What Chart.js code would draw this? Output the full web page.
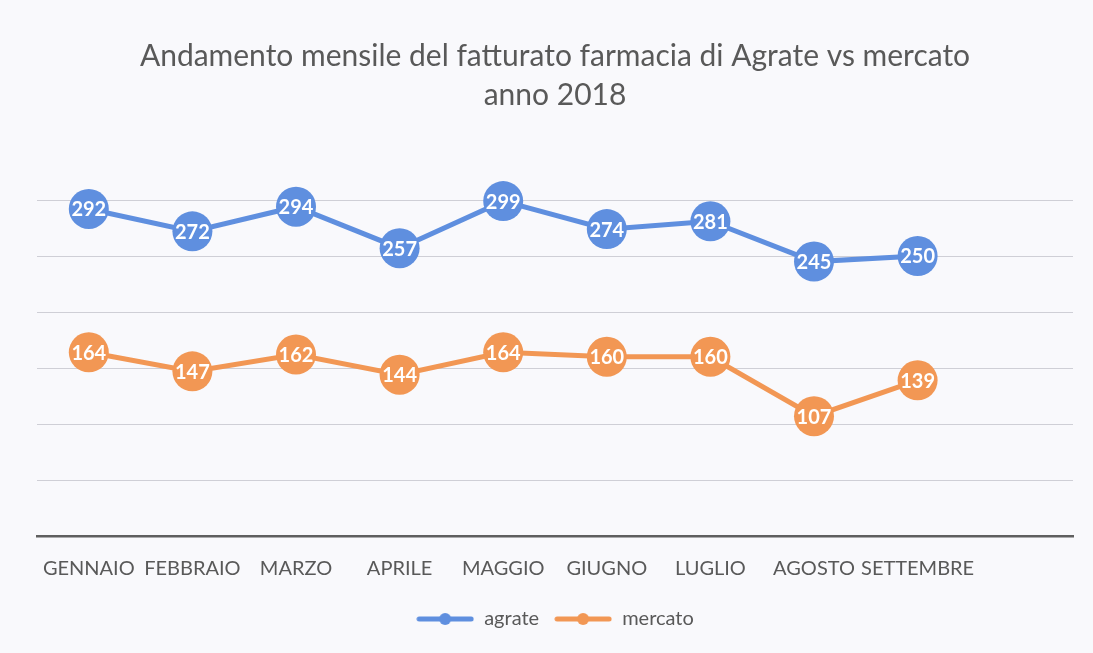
<!DOCTYPE html>
<html>
<head>
<meta charset="utf-8">
<script src="https://cdn.jsdelivr.net/npm/chart.js@4.4.1/dist/chart.umd.min.js"></script>
<style>
  html, body { margin: 0; padding: 0; background: #f9f9fc; }
  #wrap { width: 1093px; height: 653px; }
</style>
</head>
<body>
<div id="wrap"><canvas id="trend" width="1093" height="653"></canvas></div>
<script>
const months = ['GENNAIO', 'FEBBRAIO', 'MARZO', 'APRILE', 'MAGGIO', 'GIUGNO', 'LUGLIO', 'AGOSTO', 'SETTEMBRE', ''];
const agrateValues = [292, 272, 294, 257, 299, 274, 281, 245, 250];
const mercatoValues = [164, 147, 162, 144, 164, 160, 160, 107, 139];

const blue = '#5f8fdf';
const orange = '#f29754';
const grey = '#595959';

// piccolo campione linea + cerchio per la legenda
function legendMark(color) {
    const c = document.createElement('canvas');
    c.width = 58; c.height = 14;
    const ctx = c.getContext('2d');
    ctx.strokeStyle = color;
    ctx.lineWidth = 5;
    ctx.lineCap = 'round';
    ctx.beginPath(); ctx.moveTo(3, 7); ctx.lineTo(55, 7); ctx.stroke();
    ctx.fillStyle = color;
    ctx.beginPath(); ctx.arc(29, 7, 6, 0, Math.PI * 2); ctx.fill();
    return c;
}

// etichette bianche dentro i cerchi
const valueLabels = {
    id: 'valueLabels',
    afterDatasetsDraw(chart) {
        const ctx = chart.ctx;
        ctx.save();
        ctx.font = 'bold 20px Lato';
        ctx.fillStyle = '#ffffff';
        ctx.textAlign = 'center';
        ctx.textBaseline = 'middle';
        chart.data.datasets.forEach((ds, i) => {
            chart.getDatasetMeta(i).data.forEach((pt, j) => {
                if (ds.data[j] == null) return;
                ctx.fillText(ds.data[j], pt.x, pt.y + 1);
            });
        });
        ctx.restore();
    }
};

const trend = new Chart('trend', {
    type: 'line',
    data: {
        labels: months,
        datasets: [{
            label: 'agrate',
            data: agrateValues,
            borderColor: blue,
            backgroundColor: blue,
            borderWidth: 5,
            pointRadius: 20,
            pointHoverRadius: 20,
            pointBorderWidth: 0,
            clip: false
        }, {
            label: 'mercato',
            data: mercatoValues,
            borderColor: orange,
            backgroundColor: orange,
            borderWidth: 5,
            pointRadius: 20,
            pointHoverRadius: 20,
            pointBorderWidth: 0,
            clip: false
        }]
    },
    options: {
        responsive: false,
        animation: false,
        events: [],
        layout: { padding: { left: 37, right: 20, top: 0, bottom: 14 } },
        scales: {
            x: {
                offset: true,
                grid: { display: false },
                border: { display: true, color: '#5f5f5f', width: 2.5 },
                ticks: {
                    font: { family: 'Lato', size: 20 },
                    color: grey,
                    padding: 13,
                    maxRotation: 0,
                    autoSkip: false
                }
            },
            y: {
                min: 0,
                max: 300,
                ticks: { display: false, stepSize: 50 },
                border: { display: false },
                grid: { color: '#cfcfd6', lineWidth: 1, drawTicks: false }
            }
        },
        plugins: {
            title: {
                display: true,
                text: ['Andamento mensile del fatturato farmacia di Agrate vs mercato', 'anno 2018'],
                font: { family: 'Lato', size: 30, weight: 'normal', lineHeight: 1.3 },
                color: grey,
                padding: { top: 37, bottom: 85 }
            },
            legend: {
                position: 'bottom',
                labels: {
                    usePointStyle: true,
                    pointStyleWidth: 58,
                    font: { family: 'Lato', size: 20 },
                    color: grey,
                    padding: 15,
                    generateLabels(chart) {
                        const items = Chart.defaults.plugins.legend.labels.generateLabels(chart);
                        items.forEach((it, i) => {
                            it.pointStyle = legendMark(i === 0 ? blue : orange);
                        });
                        return items;
                    }
                }
            },
            tooltip: { enabled: false }
        }
    },
    plugins: [valueLabels]
});
</script>
</body>
</html>
